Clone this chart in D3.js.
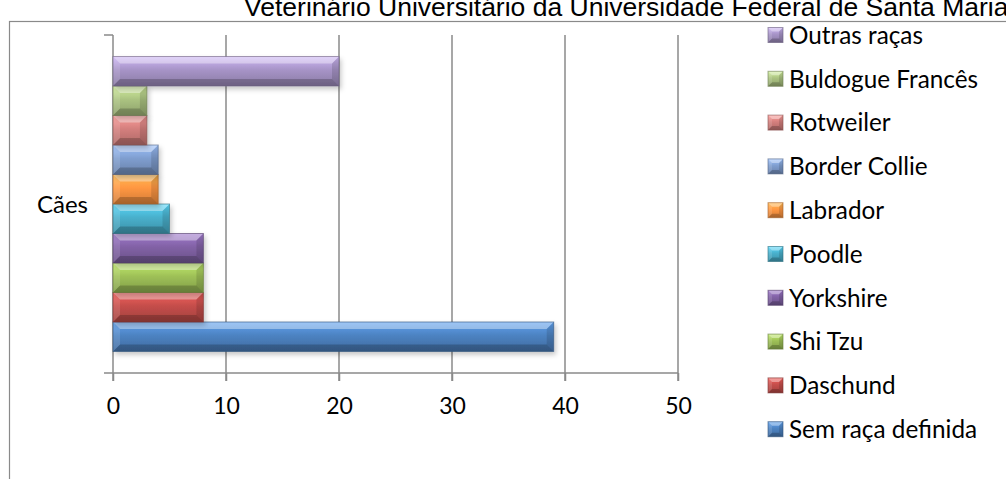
<!DOCTYPE html>
<html>
<head>
<meta charset="utf-8">
<script src="https://cdn.jsdelivr.net/npm/d3@7"></script>
<style>
  html, body { margin: 0; padding: 0; background: #fff; }
  svg { display: block; }
  text { font-family: Lato, "Open Sans", sans-serif; fill: #000; }
</style>
</head>
<body>
<svg id="chart" width="1006" height="479"></svg>
<script>
// Dog breeds seen, series order from the bottom bar upwards
const breeds = ["Sem raça definida", "Daschund", "Shi Tzu", "Yorkshire", "Poodle",
                "Labrador", "Border Collie", "Rotweiler", "Buldogue Francês", "Outras raças"];
const counts = [39, 8, 8, 8, 5, 4, 4, 3, 3, 20];
const breedColors = ["#4a7ebb", "#be4b48", "#98b954", "#7d5fa0", "#46aac5",
                     "#f69240", "#7b98c8", "#cd7b79", "#a5bc7c", "#a18fc0"];
const categories = ["Cães"];
const xTicks = [0, 10, 20, 30, 40, 50];
const titleLine = "Veterinário Universitário da Universidade Federal de Santa Maria";

const svg = d3.select("#chart");
const defs = svg.append("defs");

// soft shadow under each bar
const shadow = defs.append("filter").attr("id", "barShadow")
  .attr("x", "-10%").attr("y", "-30%").attr("width", "130%").attr("height", "180%");
shadow.append("feDropShadow").attr("dx", 2).attr("dy", 3)
  .attr("stdDeviation", 2.5).attr("flood-color", "#000").attr("flood-opacity", 0.22);

// vertical shading gradient per colour
breedColors.forEach((c, i) => {
  const g = defs.append("linearGradient").attr("id", "grad" + i)
    .attr("x1", 0).attr("y1", 0).attr("x2", 0).attr("y2", 1);
  const base = d3.color(c);
  g.append("stop").attr("offset", "0%").attr("stop-color", base.brighter(0.7));
  g.append("stop").attr("offset", "45%").attr("stop-color", base.brighter(0.1));
  g.append("stop").attr("offset", "100%").attr("stop-color", base.darker(0.45));
});

// outer frame of the chart area (runs off the right and bottom edges)
svg.append("rect").attr("x", 9.5).attr("y", 21.5).attr("width", 1100).attr("height", 500)
  .attr("fill", "none").attr("stroke", "#8a8a8a").attr("stroke-width", 1.2);

// title (only its last line falls inside the page)
svg.append("text").attr("x", 244).attr("y", 16)
  .style("font-family", "'Liberation Sans', Arial, sans-serif")
  .style("font-size", "26.5px").text(titleLine);

const plotTop = 35, plotBottom = 373;
const x = d3.scaleLinear().domain([0, 50]).range([113, 678]);
const yCat = d3.scaleBand().domain(categories).range([plotTop, plotBottom]).padding(0.068);
const ySeries = d3.scaleBand().domain(breeds.slice().reverse())
  .range([0, yCat.bandwidth()]).padding(0);

// vertical gridlines
svg.append("g").selectAll("line").data(xTicks.filter(t => t > 0)).join("line")
  .attr("x1", d => x(d)).attr("x2", d => x(d))
  .attr("y1", plotTop).attr("y2", plotBottom + 8)
  .attr("stroke", "#8a8a8a").attr("stroke-width", 1.5);

// x axis
const xAxis = svg.append("g").attr("transform", `translate(0,${plotBottom})`)
  .call(d3.axisBottom(x).tickValues(xTicks).tickSizeInner(8).tickSizeOuter(0).tickPadding(17));
xAxis.select(".domain").remove();
xAxis.selectAll(".tick line").attr("stroke", "#8a8a8a").attr("stroke-width", 1.5);
xAxis.selectAll(".tick text").style("font-family", "Lato, sans-serif")
  .style("font-size", "23px").attr("fill", "#000");
svg.append("line").attr("x1", 104).attr("x2", x(50)).attr("y1", plotBottom).attr("y2", plotBottom)
  .attr("stroke", "#8a8a8a").attr("stroke-width", 1.5);

// category axis
svg.append("line").attr("x1", x(0)).attr("x2", x(0)).attr("y1", plotTop).attr("y2", plotBottom + 8)
  .attr("stroke", "#8a8a8a").attr("stroke-width", 1.5);
svg.append("line").attr("x1", 104).attr("x2", x(0)).attr("y1", plotTop).attr("y2", plotTop)
  .attr("stroke", "#8a8a8a").attr("stroke-width", 1.5);
svg.append("g").selectAll("text").data(categories).join("text")
  .attr("x", 88).attr("y", d => yCat(d) + yCat.bandwidth() / 2)
  .attr("dy", "0.36em").attr("text-anchor", "end")
  .style("font-size", "24px").text(d => d);

// bevelled bar
function bevelBar(g, x0, y0, w, h, i, b) {
  const x1 = x0 + w, y1 = y0 + h;
  const bb = Math.min(b, w / 2, h / 2);
  const c = d3.color(breedColors[i]);
  g.append("rect").attr("x", x0).attr("y", y0).attr("width", w).attr("height", h)
    .attr("fill", `url(#grad${i})`);
  const poly = (pts, fill, op) => g.append("polygon")
    .attr("points", pts.map(p => p.join(",")).join(" "))
    .attr("fill", fill).attr("fill-opacity", op);
  poly([[x0, y0], [x1, y0], [x1 - bb, y0 + bb], [x0 + bb, y0 + bb]], "#fff", 0.38);
  poly([[x0, y1], [x1, y1], [x1 - bb, y1 - bb], [x0 + bb, y1 - bb]], "#000", 0.2);
  poly([[x0, y0], [x0 + bb, y0 + bb], [x0 + bb, y1 - bb], [x0, y1]], "#fff", 0.12);
  poly([[x1, y0], [x1 - bb, y0 + bb], [x1 - bb, y1 - bb], [x1, y1]], "#000", 0.12);
  g.append("rect").attr("x", x0).attr("y", y0).attr("width", w).attr("height", h)
    .attr("fill", "none").attr("stroke", c.darker(1.2)).attr("stroke-opacity", 0.6)
    .attr("stroke-width", 1);
}

const barsG = svg.append("g");
breeds.forEach((name, i) => {
  const g = barsG.append("g").attr("filter", "url(#barShadow)");
  const y0 = yCat("Cães") + ySeries(name);
  bevelBar(g, x(0), y0, x(counts[i]) - x(0), ySeries.bandwidth(), i, 7);
});

// legend, top entry is the last series
const legendItems = breeds.map((name, i) => ({ name, i })).reverse();
const legend = svg.append("g");
legendItems.forEach((d, k) => {
  const cy = 35 + k * 43.8;
  const g = legend.append("g");
  bevelBar(g, 768, cy - 7.5, 15, 15, d.i, 4);
  g.append("text").attr("x", 789).attr("y", cy).attr("dy", "0.36em")
    .style("font-size", "24.3px").text(d.name);
});
</script>
</body>
</html>
